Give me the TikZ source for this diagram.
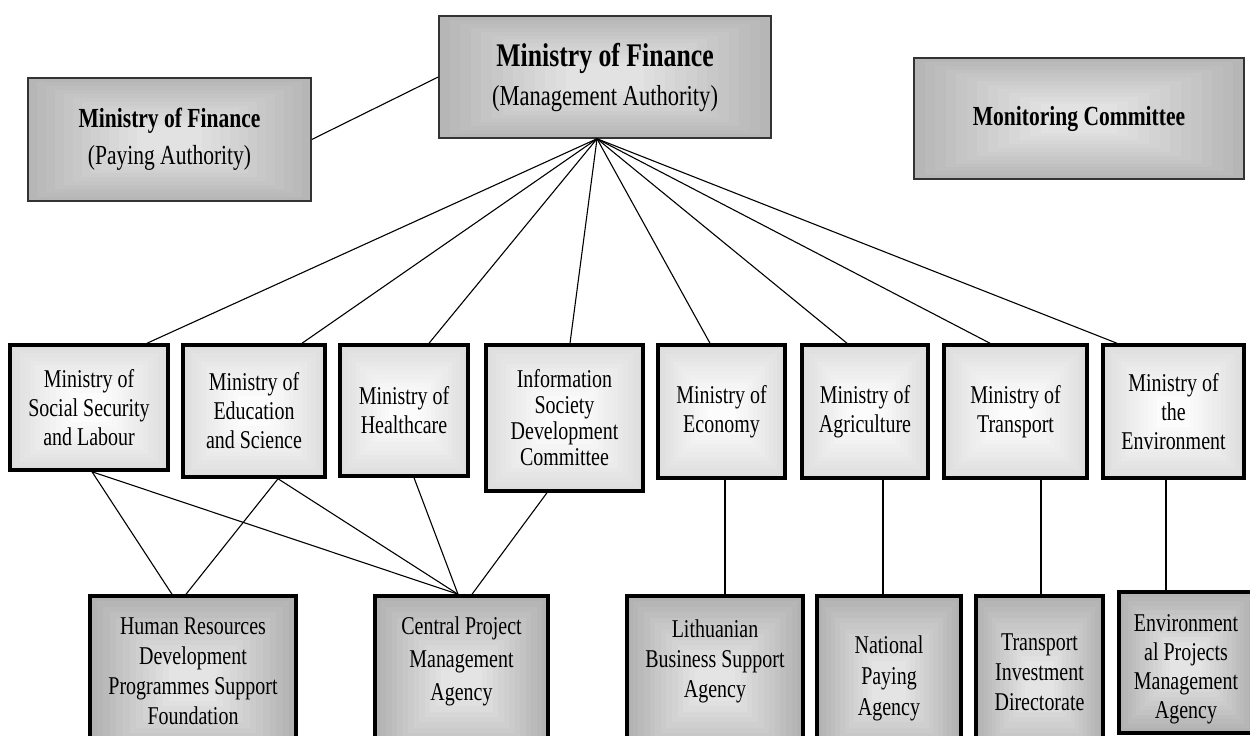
\documentclass[tikz,border=0pt]{standalone}
\usepackage{fontspec}
\newfontfamily\df[FakeStretch=0.78]{Liberation Serif}
\usetikzlibrary{calc}
\definecolor{topout}{HTML}{B6B6B6}
\definecolor{topin}{HTML}{E2E2E2}
\definecolor{midout}{HTML}{DEDEDE}
\definecolor{midin}{HTML}{FCFCFC}
\definecolor{botout}{HTML}{B2B2B2}
\definecolor{botin}{HTML}{E4E4E4}
\tikzset{
 bands/.style 2 args={path picture={
   \foreach \i in {0,...,12}{
     \pgfmathsetmacro\pp{\i/12*100}
     \fill[#2!\pp!#1] ($(path picture bounding box.south west)!{\i*0.032}!(path picture bounding box.north east)$) rectangle ($(path picture bounding box.north east)!{\i*0.032}!(path picture bounding box.south west)$);
   }}},
 topbox/.style={draw=black!80, line width=1.5pt, bands={topout}{topin}, inner sep=0pt, align=center},
 midbox/.style={draw=black, line width=3.5pt, bands={midout}{midin}, inner sep=0pt, align=center, font={\df\fontsize{25.6}{29}\selectfont}},
 botbox/.style={draw=black, line width=3.5pt, bands={botout}{botin}, inner sep=0pt, minimum height=170pt},
 bottxt/.style={align=center, inner sep=0pt, font={\df\fontsize{25.6}{30}\selectfont}},
 conn/.style={draw=black, line width=1.1pt},
}
\begin{document}
\begin{tikzpicture}[x=1pt, y=-1pt]
\useasboundingbox (0,0) rectangle (1250,736);
\clip (0,0) rectangle (1250,736);
\fill[white] (0,0) rectangle (1250,736);

% top row
\node[topbox, minimum width=332pt, minimum height=122pt, font={\df\fontsize{28.9}{39}\selectfont}] (mgmt) at (605,77)
  {{\bfseries\fontsize{33}{39}\selectfont Ministry of Finance}\\(Management Authority)};
\node[topbox, minimum width=283pt, minimum height=123pt, font={\df\fontsize{27.6}{37}\selectfont}] (pay) at (169.5,139.5)
  {{\bfseries Ministry of Finance}\\(Paying Authority)};
\node[topbox, minimum width=330pt, minimum height=121pt, font={\df\bfseries\fontsize{27.6}{30}\selectfont}] (mon) at (1079,118.5)
  {Monitoring Committee};

% middle row
\node[midbox, minimum width=158pt, minimum height=125pt] (m1) at (89,407.5) {Ministry of\\Social Security\\and Labour};
\node[midbox, minimum width=142pt, minimum height=132pt] (m2) at (254,411) {Ministry of\\Education\\and Science};
\node[midbox, minimum width=128pt, minimum height=131pt] (m3) at (404,410.5) {Ministry of\\Healthcare};
\node[midbox, minimum width=157pt, minimum height=146pt, font={\df\fontsize{25.6}{26}\selectfont}] (m4) at (564.5,418) {Information\\Society\\Development\\Committee};
\node[midbox, minimum width=127pt, minimum height=133pt] (m5) at (721.5,411.5) {Ministry of\\Economy};
\node[midbox, minimum width=126pt, minimum height=133pt] (m6) at (865,411.5) {Ministry of\\Agriculture};
\node[midbox, minimum width=143pt, minimum height=133pt] (m7) at (1015.5,411.5) {Ministry of\\Transport};
\node[midbox, minimum width=141pt, minimum height=133pt] (m8) at (1173.5,411.5) {Ministry of\\the\\Environment};

% bottom row
\node[botbox, minimum width=206pt] (b1) at (193,681) {};
\node[botbox, minimum width=173pt] (b2) at (461.5,681) {};
\node[botbox, minimum width=176pt] (b3) at (715,681) {};
\node[botbox, minimum width=144pt] (b4) at (889,681) {};
\node[botbox, minimum width=127pt] (b5) at (1039.5,681) {};
\node[botbox, minimum width=134pt, minimum height=141pt] (b6) at (1186,662.5) {};
\node[bottxt] (t1) at (193,671.5) {Human Resources\\Development\\Programmes Support\\Foundation};
\node[bottxt, font={\df\fontsize{25.6}{33}\selectfont}] (t2) at (461.5,661) {Central Project\\Management\\Agency};
\node[bottxt] (t3) at (715,661) {Lithuanian\\Business Support\\Agency};
\node[bottxt, font={\df\fontsize{25.6}{31}\selectfont}] (t4) at (889,678.5) {National\\Paying\\Agency};
\node[bottxt] (t5) at (1039.5,672) {Transport\\Investment\\Directorate};
\node[bottxt, font={\df\fontsize{25.6}{29}\selectfont}] (t6) at (1186,669) {Environment\\al Projects\\Management\\Agency};

% connectors
\draw[conn] (pay.east) -- (mgmt.west);
\coordinate (fan) at ([xshift=-8pt]mgmt.south);
\draw[conn] (fan) -- ([xshift=58pt]m1.north);
\draw[conn] (fan) -- ([xshift=48pt]m2.north);
\draw[conn] (fan) -- ([xshift=25pt]m3.north);
\draw[conn] (fan) -- ([xshift=5.5pt]m4.north);
\draw[conn] (fan) -- ([xshift=-11.5pt]m5.north);
\draw[conn] (fan) -- ([xshift=-18pt]m6.north);
\draw[conn] (fan) -- ([xshift=-25.5pt]m7.north);
\draw[conn] (fan) -- ([xshift=-56.5pt]m8.north);

\draw[conn] ([xshift=3pt]m1.south) -- ([xshift=-21pt]b1.north);
\draw[conn] ([xshift=3pt]m1.south) -- ([xshift=-3.5pt]b2.north);
\draw[conn] ([xshift=24pt]m2.south) -- ([xshift=-7pt]b1.north);
\draw[conn] ([xshift=24pt]m2.south) -- ([xshift=-3.5pt]b2.north);
\draw[conn] ([xshift=10pt]m3.south) -- ([xshift=-3.5pt]b2.north);
\draw[conn] ([xshift=-17.5pt]m4.south) -- ([xshift=10.5pt]b2.north);

\draw[conn] ([xshift=3.5pt]m5.south) -- ([xshift=3.5pt]m5.south |- b3.north);
\draw[conn] ([xshift=18pt]m6.south) -- ([xshift=18pt]m6.south |- b4.north);
\draw[conn] ([xshift=25.5pt]m7.south) -- ([xshift=25.5pt]m7.south |- b5.north);
\draw[conn] ([xshift=-7.5pt]m8.south) -- ([xshift=-7.5pt]m8.south |- b6.north);
\end{tikzpicture}
\end{document}
